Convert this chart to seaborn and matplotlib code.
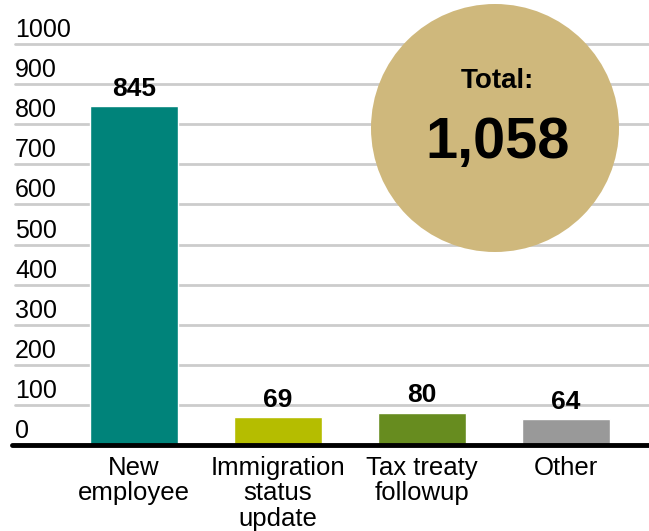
import matplotlib
matplotlib.use("Agg")
import matplotlib.pyplot as plt
from matplotlib.patches import Circle
from matplotlib.transforms import ScaledTranslation
import seaborn as sns
import pandas as pd

categories = ["New\nemployee", "Immigration\nstatus\nupdate", "Tax treaty\nfollowup", "Other"]
counts = [845, 69, 80, 64]
bar_colors = ["#00837A", "#B5BD00", "#678C1F", "#999999"]
y_ticks = [0, 100, 200, 300, 400, 500, 600, 700, 800, 900, 1000]
total_label = "Total:"
total_value = "1,058"

sns.set_theme(style="white")
plt.rcParams["font.family"] = ["Liberation Sans", "DejaVu Sans"]

W, H, DPI = 649, 531, 100
fig = plt.figure(figsize=(W / DPI, H / DPI), dpi=DPI)
ax = fig.add_axes([12 / W, (H - 445) / H, (W - 12) / W, (445 - 44) / H])

df = pd.DataFrame({"category": categories, "count": counts})
sns.barplot(data=df, x="category", y="count", hue="category",
            palette=bar_colors, legend=False, width=0.61,
            saturation=1, ax=ax, zorder=3)

ax.set_xlim(-0.847, 3.576)
ax.set_ylim(0, 1000)
ax.set_xlabel("")
ax.set_ylabel("")
for s in ax.spines.values():
    s.set_visible(False)

# horizontal gridlines and baseline
for v in y_ticks[1:]:
    ax.axhline(v, xmin=3 / 637, color="#CCCCCC", lw=2, zorder=1, clip_on=False)
ax.axhline(0, color="black", lw=3.5, zorder=4, clip_on=False)

# y labels sit above their gridlines, left aligned
ax.set_yticks(y_ticks)
ax.set_yticklabels([str(v) for v in y_ticks])
ax.tick_params(axis="y", length=0, pad=0, labelsize=18, labelcolor="black")
off = ScaledTranslation(3 / DPI, 7 / DPI, fig.dpi_scale_trans)
for lab in ax.get_yticklabels():
    lab.set_horizontalalignment("left")
    lab.set_verticalalignment("baseline")
    lab.set_transform(lab.get_transform() + off)

ax.tick_params(axis="x", length=0, pad=8, labelsize=18.5, labelcolor="black")
for lab in ax.get_xticklabels():
    lab.set_linespacing(1.07)

# value labels on bars
for i, v in enumerate(counts):
    ax.annotate(str(v), (i, v), xytext=(0, 4), textcoords="offset points",
                ha="center", va="bottom", fontsize=19, fontweight="bold",
                color="black", zorder=5)

# total badge
circ = Circle((495 / DPI, (H - 128) / DPI), 124 / DPI, transform=fig.dpi_scale_trans,
              facecolor="#CFB87C", edgecolor="none", zorder=2)
fig.patches.append(circ)
fig.text(497 / W, (H - 81) / H, total_label, ha="center", va="center",
         fontsize=20, fontweight="bold", color="black", zorder=6)
fig.text(498 / W, (H - 143) / H, total_value, ha="center", va="center",
         fontsize=41.5, fontweight="bold", color="black", zorder=6)

fig.savefig("out.png", dpi=DPI)
